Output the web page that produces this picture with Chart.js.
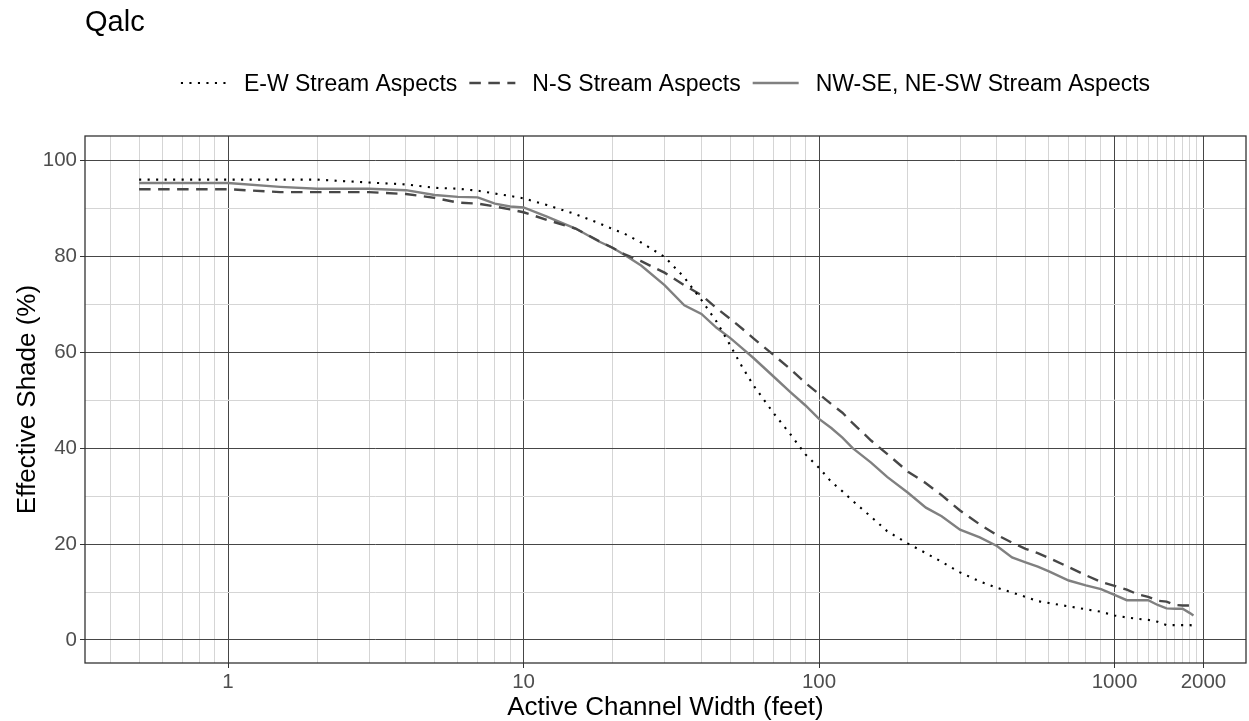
<!DOCTYPE html>
<html>
<head>
<meta charset="utf-8">
<script src="https://cdn.jsdelivr.net/npm/chart.js@4.4.1/dist/chart.umd.min.js"></script>
<style>
    html, body { margin: 0; padding: 0; background: #ffffff; }
    #wrap { width: 1249px; height: 721px; }
</style>
</head>
<body>
<div id="wrap"><canvas id="shadeChart" width="1249" height="721"></canvas></div>
<script>
// Active channel width (feet)
const widths = [0.5, 1, 1.5, 2, 3, 4, 5, 6, 7, 8, 9, 10, 12, 15, 18, 20, 22, 25, 30, 35,
    40, 45, 50, 55, 60, 70, 80, 90, 100, 110, 120, 130, 150, 170, 200, 230, 260, 300, 350, 400,
    450, 500, 550, 600, 700, 800, 900, 1000, 1100, 1200, 1300, 1400, 1500, 1600, 1700, 1800, 1850];

// Effective shade (%) per stream aspect
const ewShade = [96, 96, 96, 96, 95.4, 95, 94.3, 94.1, 93.7, 93.1, 92.6, 92.1, 90.7, 88.8, 86.9, 85.7, 84.7, 82.9, 79.9, 75.6,
    70.9, 66.4, 61.5, 56.9, 53.1, 47.4, 42.9, 38.7, 35.9, 33.0, 31.0, 29.0, 25.7, 22.7, 20.1, 18.1, 16.3, 14.1, 12.2, 10.9,
    9.9, 9.0, 8.1, 7.7, 7.0, 6.4, 5.9, 5.1, 4.7, 4.4, 4.2, 3.8, 3.1, 3.1, 3.1, 3.1, 3.0];
const nsShade = [94, 94, 93.4, 93.4, 93.4, 93.0, 92.2, 91.2, 91.0, 90.4, 89.8, 89.2, 87.6, 85.8, 83.2, 81.8, 80.4, 79.0, 76.6, 74.0,
    71.9, 69.2, 67.0, 64.9, 62.9, 59.5, 56.5, 53.6, 51.3, 49.2, 47.4, 45.2, 41.6, 38.8, 35.1, 32.7, 30.2, 27.0, 24.1, 21.9,
    20.3, 19.0, 18.1, 17.1, 15.2, 13.5, 12.1, 11.3, 10.5, 9.5, 9.0, 8.2, 8.0, 7.3, 7.2, 7.2, 7.2];
const diagShade = [95.3, 95.3, 94.5, 94.1, 94.1, 93.8, 92.8, 92.4, 92.3, 91.0, 90.4, 90.2, 88.3, 85.8, 83.1, 81.8, 80.3, 78.1, 74.0, 69.8,
    68.0, 65.1, 63.0, 60.8, 58.8, 55.0, 51.7, 48.9, 46.1, 44.2, 42.2, 40.0, 37.0, 34.0, 30.7, 27.6, 25.8, 23.0, 21.4, 19.6,
    17.2, 16.2, 15.3, 14.3, 12.4, 11.4, 10.6, 9.4, 8.3, 8.3, 8.3, 7.3, 6.6, 6.5, 6.5, 5.6, 5.1];

const seriesNames = ['E-W Stream Aspects', 'N-S Stream Aspects', 'NW-SE, NE-SW Stream Aspects'];
const xTickLabels = [1, 10, 100, 1000, 2000];
const yTickLabels = [0, 20, 40, 60, 80, 100];

const FONT = '"Liberation Sans", Arial, sans-serif';
const MAJOR_GRID = '#464646';
const MINOR_GRID = '#d5d5d5';

// gridline positions (minor log grid like the original)
function xGridValues() {
    const out = [];
    for (let k = -1; k <= 2; k++) {
        for (let n = 1; n <= 9; n++) {
            const v = n * Math.pow(10, k);
            if (v >= 0.4) out.push(v);
        }
    }
    for (let n = 10; n <= 20; n++) out.push(n * 100);
    return out;
}

function isMajor(list, v) {
    return list.some(m => Math.abs(m - v) < 1e-9);
}

function toPoints(values) {
    return widths.map((w, i) => ({ x: w, y: values[i] }));
}

const panelDecor = {
    id: 'panelDecor',
    afterDatasetsDraw(chart) {
        const { ctx, chartArea: a } = chart;
        ctx.save();
        ctx.strokeStyle = '#333333';
        ctx.lineWidth = 1.3;
        ctx.strokeRect(a.left, a.top, a.right - a.left, a.bottom - a.top);
        ctx.restore();
    },
    afterDraw(chart) {
        const ctx = chart.ctx;
        ctx.save();
        // title
        ctx.fillStyle = '#000000';
        ctx.font = '29px ' + FONT;
        ctx.textAlign = 'left';
        ctx.textBaseline = 'alphabetic';
        ctx.fillText('Qalc', chart.chartArea.left, 31);

        // legend
        ctx.font = '23px ' + FONT;
        const sampleW = 46, gapText = 17, gapItem = 12;
        const items = chart.data.datasets.map(ds => ({ ds, tw: ctx.measureText(ds.label).width }));
        let total = 0;
        items.forEach((it, i) => { total += sampleW + gapText + it.tw + (i < items.length - 1 ? gapItem : 0); });
        let x = (chart.chartArea.left + chart.chartArea.right) / 2 - total / 2;
        const yLine = 83;
        items.forEach(it => {
            ctx.beginPath();
            ctx.strokeStyle = it.ds.borderColor;
            ctx.lineWidth = it.ds.borderWidth;
            ctx.setLineDash(it.ds.borderDash || []);
            ctx.moveTo(x, yLine);
            ctx.lineTo(x + sampleW, yLine);
            ctx.stroke();
            ctx.setLineDash([]);
            x += sampleW + gapText;
            ctx.fillStyle = '#000000';
            ctx.fillText(it.ds.label, x, 91);
            x += it.tw + gapItem;
        });
        ctx.restore();
    }
};

const ctx = document.getElementById('shadeChart').getContext('2d');
new Chart(ctx, {
    type: 'line',
    data: {
        datasets: [
            {
                label: seriesNames[0],
                data: toPoints(ewShade),
                borderColor: '#000000',
                borderWidth: 2.1,
                borderDash: [2.1, 6.4]
            },
            {
                label: seriesNames[1],
                data: toPoints(nsShade),
                borderColor: '#474747',
                borderWidth: 2.4,
                borderDash: [11.5, 7.5]
            },
            {
                label: seriesNames[2],
                data: toPoints(diagShade),
                borderColor: '#808080',
                borderWidth: 2.4,
                borderDash: []
            }
        ]
    },
    options: {
        responsive: false,
        animation: false,
        devicePixelRatio: 1,
        layout: { padding: { top: 136, right: 3, left: 0, bottom: 0 } },
        elements: {
            point: { radius: 0, hoverRadius: 0 },
            line: { tension: 0, borderCapStyle: 'butt', fill: false }
        },
        plugins: {
            legend: { display: false },
            title: { display: false },
            tooltip: { enabled: false }
        },
        scales: {
            x: {
                type: 'logarithmic',
                min: 0.328,
                max: 2786,
                bounds: 'data',
                afterFit: scale => { scale.height = 58; },
                afterBuildTicks: scale => {
                    scale.ticks = xGridValues().map(v => ({ value: v }));
                },
                border: { display: false },
                grid: {
                    color: c => (c.tick && isMajor(xTickLabels, c.tick.value)) ? MAJOR_GRID : MINOR_GRID,
                    lineWidth: 1,
                    drawTicks: true,
                    tickLength: 5,
                    tickColor: c => (c.tick && isMajor(xTickLabels, c.tick.value)) ? '#333333' : 'rgba(0,0,0,0)'
                },
                ticks: {
                    autoSkip: false,
                    maxRotation: 0,
                    minRotation: 0,
                    padding: 2,
                    major: { enabled: false },
                    color: '#4d4d4d',
                    font: { family: FONT, size: 20.5 },
                    callback: v => isMajor(xTickLabels, v) ? String(Math.round(v)) : ''
                },
                title: {
                    display: true,
                    text: 'Active Channel Width (feet)',
                    color: '#000000',
                    font: { family: FONT, size: 26, lineHeight: 1 },
                    padding: { top: 0, bottom: 0 }
                }
            },
            y: {
                type: 'linear',
                min: -4.8,
                max: 105.1,
                afterFit: scale => { scale.width = 85; },
                afterBuildTicks: scale => {
                    const t = [];
                    for (let v = 0; v <= 100; v += 10) t.push({ value: v });
                    scale.ticks = t;
                },
                border: { display: false },
                grid: {
                    color: c => (c.tick && isMajor(yTickLabels, c.tick.value)) ? MAJOR_GRID : MINOR_GRID,
                    lineWidth: 1,
                    drawTicks: true,
                    tickLength: 5,
                    tickColor: c => (c.tick && isMajor(yTickLabels, c.tick.value)) ? '#333333' : 'rgba(0,0,0,0)'
                },
                ticks: {
                    autoSkip: false,
                    padding: 3,
                    color: '#4d4d4d',
                    font: { family: FONT, size: 20.5 },
                    callback: v => isMajor(yTickLabels, v) ? String(v) : ''
                },
                title: {
                    display: true,
                    text: 'Effective Shade (%)',
                    color: '#000000',
                    font: { family: FONT, size: 26, lineHeight: 1 },
                    padding: { top: 15, bottom: 0 }
                }
            }
        }
    },
    plugins: [panelDecor]
});
</script>
</body>
</html>
